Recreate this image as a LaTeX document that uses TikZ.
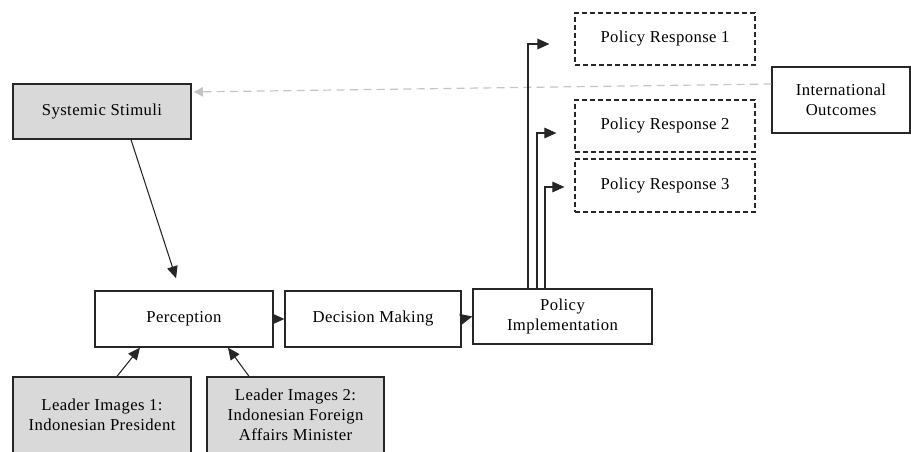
\documentclass[tikz,border=0pt]{standalone}
\usepackage{fontspec}
\setmainfont[LetterSpace=2.5]{Liberation Serif}
\usetikzlibrary{arrows.meta}
\newdimen\pxu \pxu=0.75pt
\definecolor{boxgray}{HTML}{D9D9D9}
\definecolor{dashgray}{HTML}{C4C4C4}
\tikzset{
  box/.style={draw=black!85, line width=1pt, rectangle, align=center, inner sep=1pt, font=\fontsize{12.5}{15}\selectfont},
  graybox/.style={box, fill=boxgray},
  dashbox/.style={box, dashed, dash pattern=on 3.5pt off 2.5pt, line width=0.9pt},
  arr/.style={draw=black!85, line width=0.8pt, -{Triangle[length=9pt,width=8pt]}},
  grayarr/.style={draw=dashgray, line width=0.9pt, dash pattern=on 6pt off 4pt, -{Triangle[length=7pt,width=7pt,fill=dashgray]}},
}
\begin{document}
\begin{tikzpicture}[x=0.75pt,y=-0.75pt]
\useasboundingbox (0,0) rectangle (911,452);
\node[graybox, minimum width=178\pxu, minimum height=55\pxu] (SS) at (102,111.5) {Systemic Stimuli};
\node[box, minimum width=138\pxu, minimum height=66\pxu] (IO) at (841,100) {International\\Outcomes};
\node[dashbox, minimum width=180\pxu, minimum height=52\pxu] (PR1) at (665,39) {Policy Response 1};
\node[dashbox, minimum width=180\pxu, minimum height=52\pxu] (PR2) at (665,126) {Policy Response 2};
\node[dashbox, minimum width=180\pxu, minimum height=53\pxu] (PR3) at (665,185.5) {Policy Response 3};
\node[box, minimum width=178\pxu, minimum height=56\pxu] (P) at (184,319) {Perception};
\node[box, minimum width=176\pxu, minimum height=56\pxu] (DM) at (373,319) {Decision Making};
\node[box, minimum width=179\pxu, minimum height=55\pxu] (PI) at (562.5,316.5) {Policy\\Implementation};
\node[graybox, minimum width=178\pxu, minimum height=76\pxu] (L1) at (102,415) {Leader Images 1:\\Indonesian President};
\node[graybox, minimum width=177\pxu, minimum height=76\pxu] (L2) at (295.5,415) {Leader Images 2:\\Indonesian Foreign\\Affairs Minister};

\draw[grayarr, shorten >=1.5pt] ([yshift=16\pxu]IO.west) -- ([yshift=19.5\pxu]SS.east);
\draw[arr, shorten >=9.5pt] ([xshift=29\pxu]SS.south) -- ([xshift=-4\pxu]P.north);
\draw[arr] ([xshift=15\pxu]L1.north) -- ([xshift=-44\pxu]P.south);
\draw[arr] ([xshift=-46.5\pxu]L2.north) -- ([xshift=44\pxu]P.south);
\draw[arr] (P.east) -- (DM.west);
\draw[arr] (DM.east) -- (PI.west);
\draw[arr, shorten >=18.75pt] ([xshift=-34.5\pxu]PI.north) |- ([yshift=-5\pxu]PR1.west);
\draw[arr, shorten >=13.5pt] ([xshift=-25.5\pxu]PI.north) |- ([yshift=-7\pxu]PR2.west);
\draw[arr, shorten >=7.5pt] ([xshift=-17.5\pxu]PI.north) |- ([yshift=-1.5\pxu]PR3.west);
\end{tikzpicture}
\end{document}
